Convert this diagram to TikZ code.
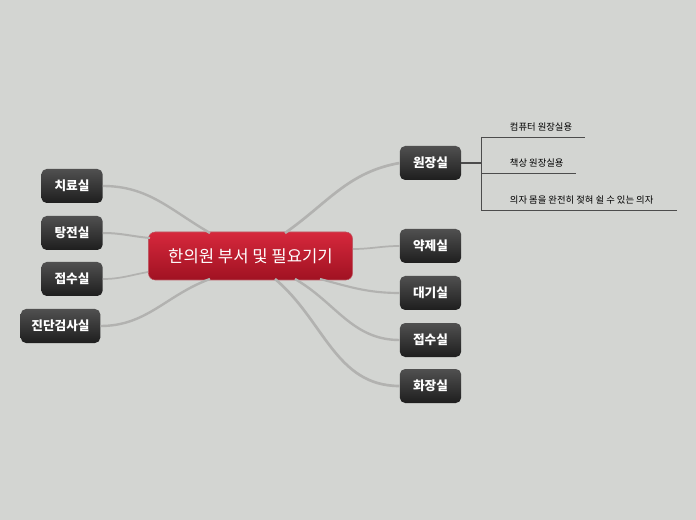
\documentclass[tikz,border=0pt]{standalone}
\usepackage{fontspec}
\setmainfont{Noto Sans CJK KR}
\usetikzlibrary{positioning}
\definecolor{bg}{RGB}{211,213,210}
\definecolor{redtop}{RGB}{214,40,60}
\definecolor{redbot}{RGB}{160,18,34}
\definecolor{boxtop}{RGB}{80,80,80}
\definecolor{boxbot}{RGB}{30,30,30}
\definecolor{link}{RGB}{178,178,176}
\tikzset{
  topic/.style={rounded corners=4pt, top color=boxtop, bottom color=boxbot,
    text=white, font=\fontsize{9.5}{11}\selectfont\bfseries, minimum height=25.5pt,
    minimum width=46pt, inner xsep=8pt},
  root/.style={rounded corners=5pt, top color=redtop, bottom color=redbot, draw=redbot!70,
    text=white, font=\fontsize{12.5}{14}\selectfont, minimum width=153pt, minimum height=36pt},
  leaf/.style={font=\fontsize{7}{8}\selectfont, anchor=south west, inner sep=2pt},
  branch/.style={link, line width=1.3pt},
}
\begin{document}
\begin{tikzpicture}[x=0.75pt, y=-0.75pt]
\fill[bg] (0,0) rectangle (696,520);

\node [root] (center) at (250.5,256) {한의원 부서 및 필요기기};

\foreach \t/\yy [count=\i] in {원장실/163, 약제실/246, 대기실/293, 접수실/340, 화장실/386}
  \node [topic] (right-\i) at (430.5,\yy) {\t};

\foreach \t/\yy [count=\i] in {치료실/186, 탕전실/233, 접수실/279}
  \node [topic] (left-\i) at (72,\yy) {\t};
\node [topic] (left-4) at (60.5,326) {진단검사실};

% branches
\draw [branch, line width=2pt] (285,233) to[out=35,in=190] (right-1.west);
\draw [branch] (353,249) to[out=0,in=180] (right-2.west);
\draw [branch, line width=1.6pt] (320,279) to[out=-15,in=180] (right-3.west);
\draw [branch, line width=1.8pt] (295,279) to[out=-30,in=180] (right-4.west);
\draw [branch, line width=2pt] (275,279) to[out=-40,in=180] (right-5.west);
\draw [branch, line width=1.8pt] (210,233) to[out=150,in=0] (left-1.east);
\draw [branch, line width=1.5pt] (150,238) to[out=175,in=0] (left-2.east);
\draw [branch] (148,272) to[out=190,in=0] (left-3.east);
\draw [branch, line width=1.8pt] (210,279) to[out=200,in=0] (left-4.east);

% 원장실 details
\coordinate (fork) at (481,163);
\draw [black!70, line width=0.8pt] (right-1.east) -- (fork);
\draw [black!70, line width=0.6pt] (481,137) -- (481,210);
\foreach \t/\yy/\xe [count=\i] in {컴퓨터 원장실용/137/585, 책상 원장실용/173/576, 의자 몸을 완전히 젖혀 쉴 수 있는 의자/210/677} {
  \draw [black!70, line width=0.6pt] (481,\yy) -- (\xe,\yy);
  \node [leaf] (leaf-\i) at (507,\yy-3) {\t};
}
\end{tikzpicture}
\end{document}
